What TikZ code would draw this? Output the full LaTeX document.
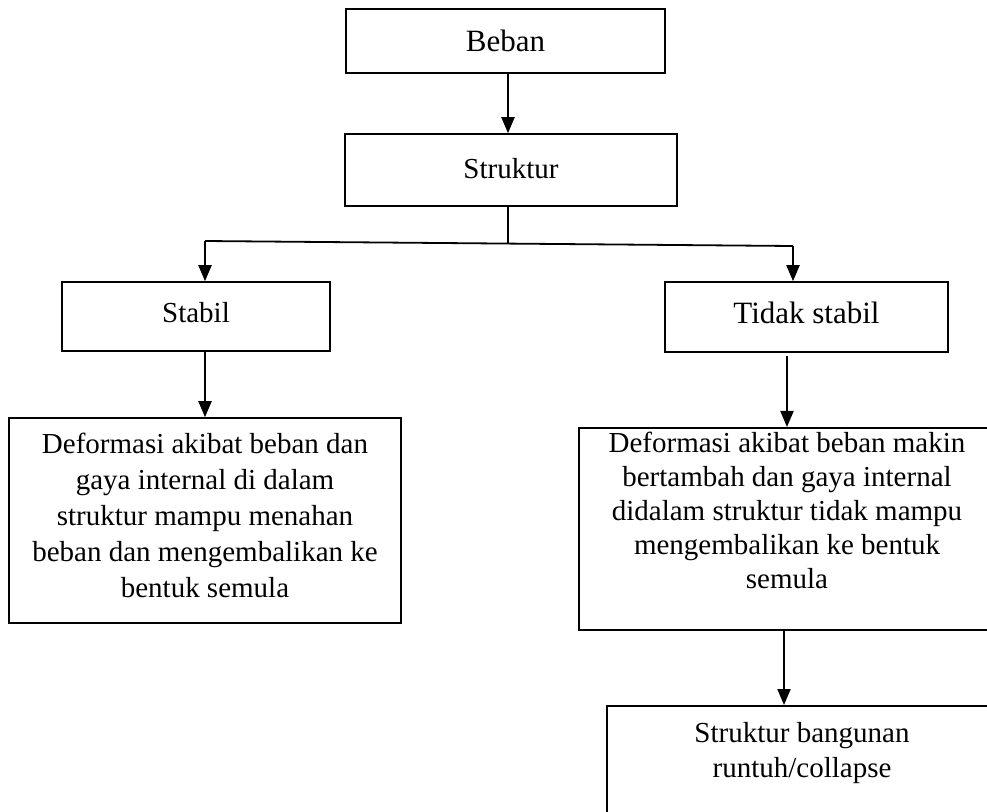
\documentclass[tikz,border=0pt]{standalone}
\usepackage{fontspec}
\setmainfont{Liberation Serif}
\usetikzlibrary{arrows.meta}

\begin{document}
\begin{tikzpicture}[
    x=1pt, y=-1pt,
    box/.style={rectangle, draw, line width=1.6pt, align=center, inner sep=4pt, font=\fontsize{29}{35}\selectfont},
    bigbox/.style={box, font=\fontsize{31}{37}\selectfont},
    arrow/.style={-{Triangle[length=16pt,width=13pt]}, line width=2pt},
    link/.style={line width=1.8pt},
]
    \clip (0,0) rectangle (987,811);

    % Load and structure
    \node[bigbox, minimum width=319pt, minimum height=64pt] (beban) at (505.5,41) {Beban};
    \node[box, minimum width=332pt, minimum height=72pt] (struktur) at (511,170) {Struktur\rule[-3pt]{0pt}{3pt}};

    % Split
    \coordinate (split) at (508,243.5);
    \coordinate (splitL) at (205,241);
    \coordinate (splitR) at (793,246);

    % Stable / unstable
    \node[box, minimum width=268pt, minimum height=69pt] (stabil) at (196,316.5) {Stabil\rule[-8pt]{0pt}{8pt}};
    \node[bigbox, minimum width=283pt, minimum height=70pt] (tidak) at (806.5,317) {Tidak stabil\rule[-8pt]{0pt}{8pt}};

    % Deformation
    \node[box, font=\fontsize{29}{36}\selectfont, minimum width=392pt, minimum height=205pt] (defstabil) at (205,520.5)
        {Deformasi akibat beban dan\\gaya internal di dalam\\struktur mampu menahan\\beban dan mengembalikan ke\\bentuk semula\rule[-10pt]{0pt}{10pt}};
    \node[box, font=\fontsize{29}{34}\selectfont, minimum width=416pt, minimum height=202pt] (deftidak) at (787,529)
        {Deformasi akibat beban makin\\bertambah dan gaya internal\\didalam struktur tidak mampu\\mengembalikan ke bentuk\\semula\rule[-38pt]{0pt}{38pt}};

    % Collapse
    \node[box, anchor=north, minimum width=390pt, inner ysep=17pt] (runtuh) at (802,705)
        {Struktur bangunan\\runtuh/collapse\rule[-60pt]{0pt}{60pt}};

    % Arrows
    \draw[arrow] (beban.south -| split) -- (struktur.north -| split);
    \draw[link] (struktur.south -| split) -- (split);
    \draw[link] (splitL) -- (splitR);
    \draw[arrow] (splitL) -- (stabil.north -| splitL);
    \draw[arrow] (splitR) -- (tidak.north -| splitR);
    \draw[arrow] (stabil.south -| defstabil.north) -- (defstabil.north);
    \draw[arrow] ([yshift=-3pt]tidak.south -| deftidak.north) -- (deftidak.north);
    \draw[arrow] ([xshift=-3pt]deftidak.south) -- ([xshift=-3pt]deftidak.south |- runtuh.north);
\end{tikzpicture}
\end{document}
